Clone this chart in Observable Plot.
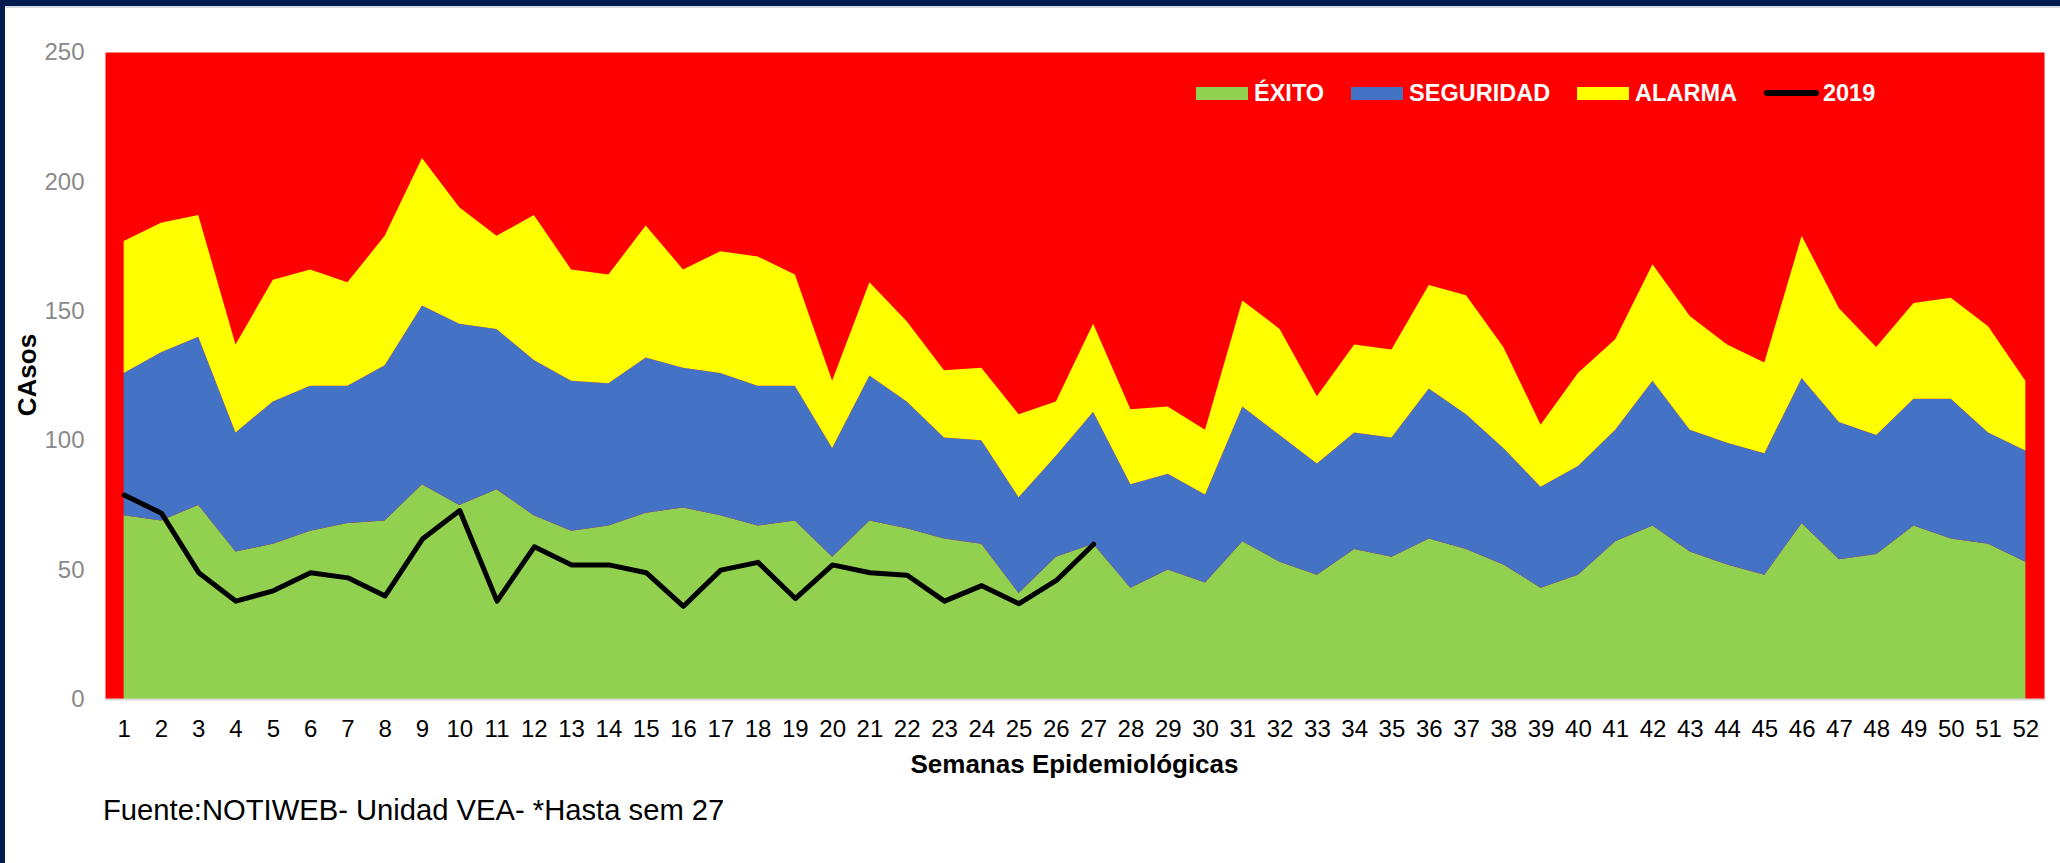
<!DOCTYPE html>
<html>
<head>
<meta charset="utf-8">
<script src="https://cdn.jsdelivr.net/npm/d3@7"></script>
<script src="https://cdn.jsdelivr.net/npm/@observablehq/plot@0.6"></script>
<style>
  html, body { margin: 0; padding: 0; background: #fff; }
  body { width: 2060px; height: 863px; position: relative; overflow: hidden;
         font-family: Arial, "Liberation Sans", sans-serif; }
  #chart { position: absolute; left: 0; top: 0; }
  .border-top { position: absolute; left: 0; top: 0; width: 2060px; height: 6px; background: #011b4f; }
  .border-top2 { position: absolute; left: 0; top: 6px; width: 2060px; height: 2px; background: #d6dae2; }
  .border-left { position: absolute; left: 0; top: 0; width: 5px; height: 863px; background: #011b4f; }
  .legend { position: absolute; left: 1196px; top: 80px; height: 26px; display: flex; align-items: center;
            font-weight: bold; font-size: 23.5px; line-height: 26px; color: #fff; white-space: nowrap; }
  .legend .sw { width: 52px; height: 13px; margin-right: 6px; }
  .legend .ln { width: 55px; height: 6px; border-radius: 3px; background: #000; margin-right: 4px; }
  .legend .lab { margin-right: 27px; }
  .xlabel { position: absolute; left: 105px; width: 1939px; top: 749px; text-align: center;
            font-weight: bold; font-size: 26px; line-height: 30px; color: #000; }
  .ylabel { position: absolute; left: 27px; top: 375px; transform: translate(-50%, -50%) rotate(-90deg);
            font-weight: bold; font-size: 26px; line-height: 30px; color: #000; white-space: nowrap; }
  .footer { position: absolute; left: 103px; top: 793px; font-size: 29.2px; line-height: 34px; color: #000; white-space: nowrap; }
</style>
</head>
<body>
<div id="chart"></div>
<div class="border-top"></div>
<div class="border-top2"></div>
<div class="border-left"></div>
<div class="ylabel">CAsos</div>
<div class="xlabel">Semanas Epidemiológicas</div>
<div class="footer">Fuente:NOTIWEB- Unidad VEA- *Hasta sem 27</div>
<div class="legend" id="legend"></div>
<script>
// ---- Data ----
const semanas = [1,2,3,4,5,6,7,8,9,10,11,12,13,14,15,16,17,18,19,20,21,22,23,24,25,26,
                 27,28,29,30,31,32,33,34,35,36,37,38,39,40,41,42,43,44,45,46,47,48,49,50,51,52];
const exito = [71,69,75,57,60,65,68,69,83,75,81,71,65,67,72,74,71,67,69,55,69,66,62,60,41,55,
               60,43,50,45,61,53,48,58,55,62,58,52,43,48,61,67,57,52,48,68,54,56,67,62,60,53];
const seguridad = [55,65,65,46,55,56,53,60,69,70,62,60,58,55,60,54,55,54,52,42,56,49,39,40,37,39,
                   51,40,37,34,52,49,43,45,46,58,52,45,39,42,43,56,47,47,47,56,53,46,49,54,43,43];
const alarma = [51,50,47,34,47,45,40,50,57,45,36,56,43,42,51,38,47,50,43,26,36,31,26,28,32,21,
                34,29,26,25,41,41,26,34,34,40,46,39,24,36,35,45,44,38,35,55,44,34,37,39,41,27];
const casos2019 = [79,72,49,38,42,49,47,40,62,73,38,59,52,52,49,36,50,53,39,52,49,48,38,44,37,46,60];
const series = ["ÉXITO", "SEGURIDAD", "ALARMA"];
const serieColors = ["#92d050", "#4472c4", "#ffff00"];
const yTicks = [0, 50, 100, 150, 200, 250];

// ---- Build tables ----
const valores = [exito, seguridad, alarma];
const rows = [];
series.forEach((s, i) => {
  semanas.forEach((w, j) => rows.push({semana: w, serie: s, casos: valores[i][j]}));
});
const linea = casos2019.map((v, j) => ({semana: semanas[j], casos: v}));

const font = 'Arial, "Liberation Sans", sans-serif';
const chart = Plot.plot({
  width: 2060,
  height: 745,
  marginLeft: 105,
  marginRight: 16,
  marginTop: 52,
  marginBottom: 46,
  style: {fontFamily: font, fontSize: "24px", background: "transparent", overflow: "visible"},
  x: {domain: [0.5, 52.5], label: null},
  y: {domain: [0, 250], label: null},
  color: {domain: series, range: serieColors},
  marks: [
    Plot.frame({fill: "#ff0000", stroke: "none"}),
    Plot.areaY(rows, {x: "semana", y: "casos", fill: "serie", z: "serie"}),
    Plot.ruleY([0], {stroke: "#d9d9d9", strokeWidth: 2}),
    Plot.line(linea, {x: "semana", y: "casos", stroke: "#000", strokeWidth: 5,
                      strokeLinejoin: "round", strokeLinecap: "round"}),
    Plot.axisX({ticks: semanas, tickFormat: d => String(d), tickSize: 0, tickPadding: 20,
                fontSize: 24, fill: "#000", label: null}),
    Plot.axisY({ticks: yTicks, tickFormat: d => String(d), tickSize: 0, tickPadding: 21,
                fontSize: 24, fill: "#898989", label: null})
  ]
});
document.getElementById("chart").appendChild(chart);

// ---- Legend ----
const legend = document.getElementById("legend");
series.forEach((s, i) => {
  const sw = document.createElement("div");
  sw.className = "sw";
  sw.style.background = serieColors[i];
  const lab = document.createElement("span");
  lab.className = "lab";
  lab.textContent = s;
  legend.appendChild(sw);
  legend.appendChild(lab);
});
const ln = document.createElement("div");
ln.className = "ln";
const lab = document.createElement("span");
lab.textContent = "2019";
legend.appendChild(ln);
legend.appendChild(lab);
</script>
</body>
</html>
